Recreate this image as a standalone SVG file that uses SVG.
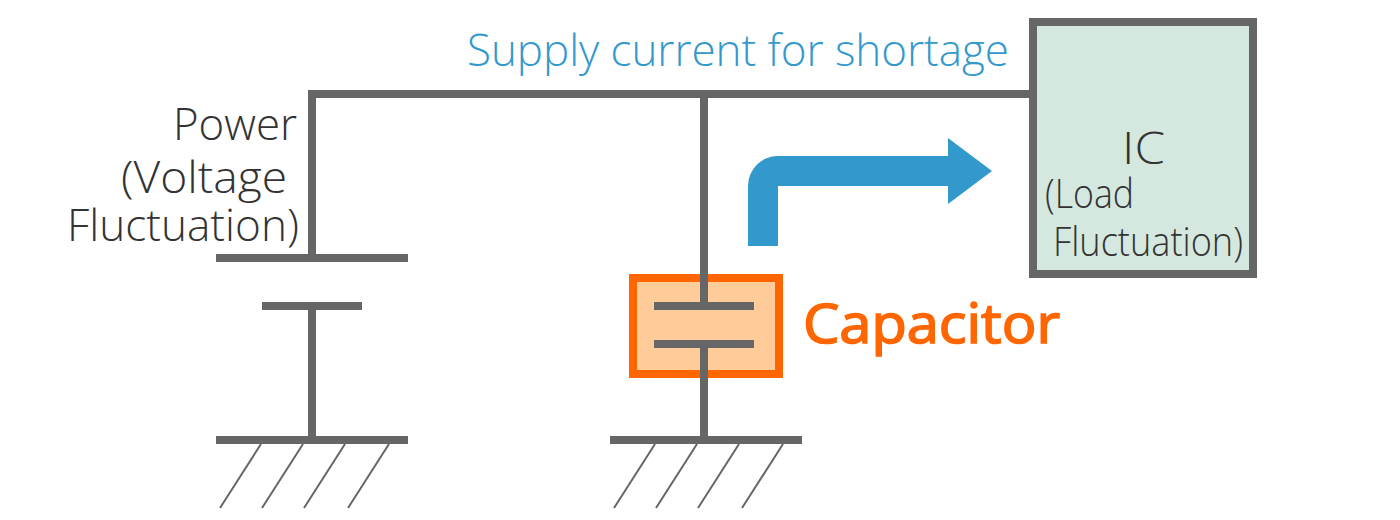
<svg xmlns="http://www.w3.org/2000/svg" width="1400" height="520" viewBox="0 0 1400 520">
<style>
.w{fill:none;stroke:#666;stroke-width:8}
.h{fill:none;stroke:#666;stroke-width:2}
.t{font-family:"Open Sans","Noto Sans","Liberation Sans",sans-serif;font-weight:300;font-size:44px;fill:#333}
.s{font-size:40px}
</style>
<rect width="1400" height="520" fill="#fff"/>
<g id="ic"><rect x="1033" y="22" width="220" height="252" fill="#d4e8e0" stroke="#666" stroke-width="8"/>
<text class="t" x="1122" y="164" textLength="43" lengthAdjust="spacingAndGlyphs">IC</text>
<text class="t s" x="1045" y="208" textLength="89" lengthAdjust="spacingAndGlyphs">(Load</text>
<text class="t s" x="1053" y="256" textLength="190" lengthAdjust="spacingAndGlyphs">Fluctuation)</text></g>
<g id="capacitor-box"><rect x="633" y="278" width="146" height="96" fill="#fc9" stroke="#f60" stroke-width="8"/></g>
<g id="connectors">
<path class="w" d="M1033 94H312V258M704 94V306M704 344V440M312 306V440"/>
<path id="flow-arrow" fill="#39c" d="M748 246V186A30 30 0 0 1 778 156H948V138L992 171L948 204V186H778V246Z"/>
</g>
<g id="power"><path class="w" d="M216 258H408M262 306H362"/>
<text class="t" x="297" y="140" text-anchor="end" textLength="124" lengthAdjust="spacingAndGlyphs">Power</text>
<text class="t" x="121" y="193" textLength="166" lengthAdjust="spacingAndGlyphs">(Voltage</text>
<text class="t" x="67" y="241" textLength="232" lengthAdjust="spacingAndGlyphs">Fluctuation)</text></g>
<g id="capacitor"><path class="w" d="M654 306H754M654 344H754"/>
<text x="803" y="343" font-family="'Open Sans','Noto Sans',sans-serif" font-weight="400" font-size="54" fill="#f60" stroke="#f60" stroke-width="1.6" textLength="257" lengthAdjust="spacingAndGlyphs">Capacitor</text></g>
<g id="ground-1"><path class="w" d="M216 440H408"/><path class="h" d="M261 444L220 508M303 444L262 508M345 444L304 508M389 444L348 508"/></g>
<g id="ground-2"><path class="w" d="M610 440H802"/><path class="h" d="M655 444L614 508M697 444L656 508M739 444L698 508M783 444L742 508"/></g>
<g id="supply-label"><text class="t" x="467" y="66" style="fill:#39c" textLength="542">Supply current for shortage</text></g>
</svg>
